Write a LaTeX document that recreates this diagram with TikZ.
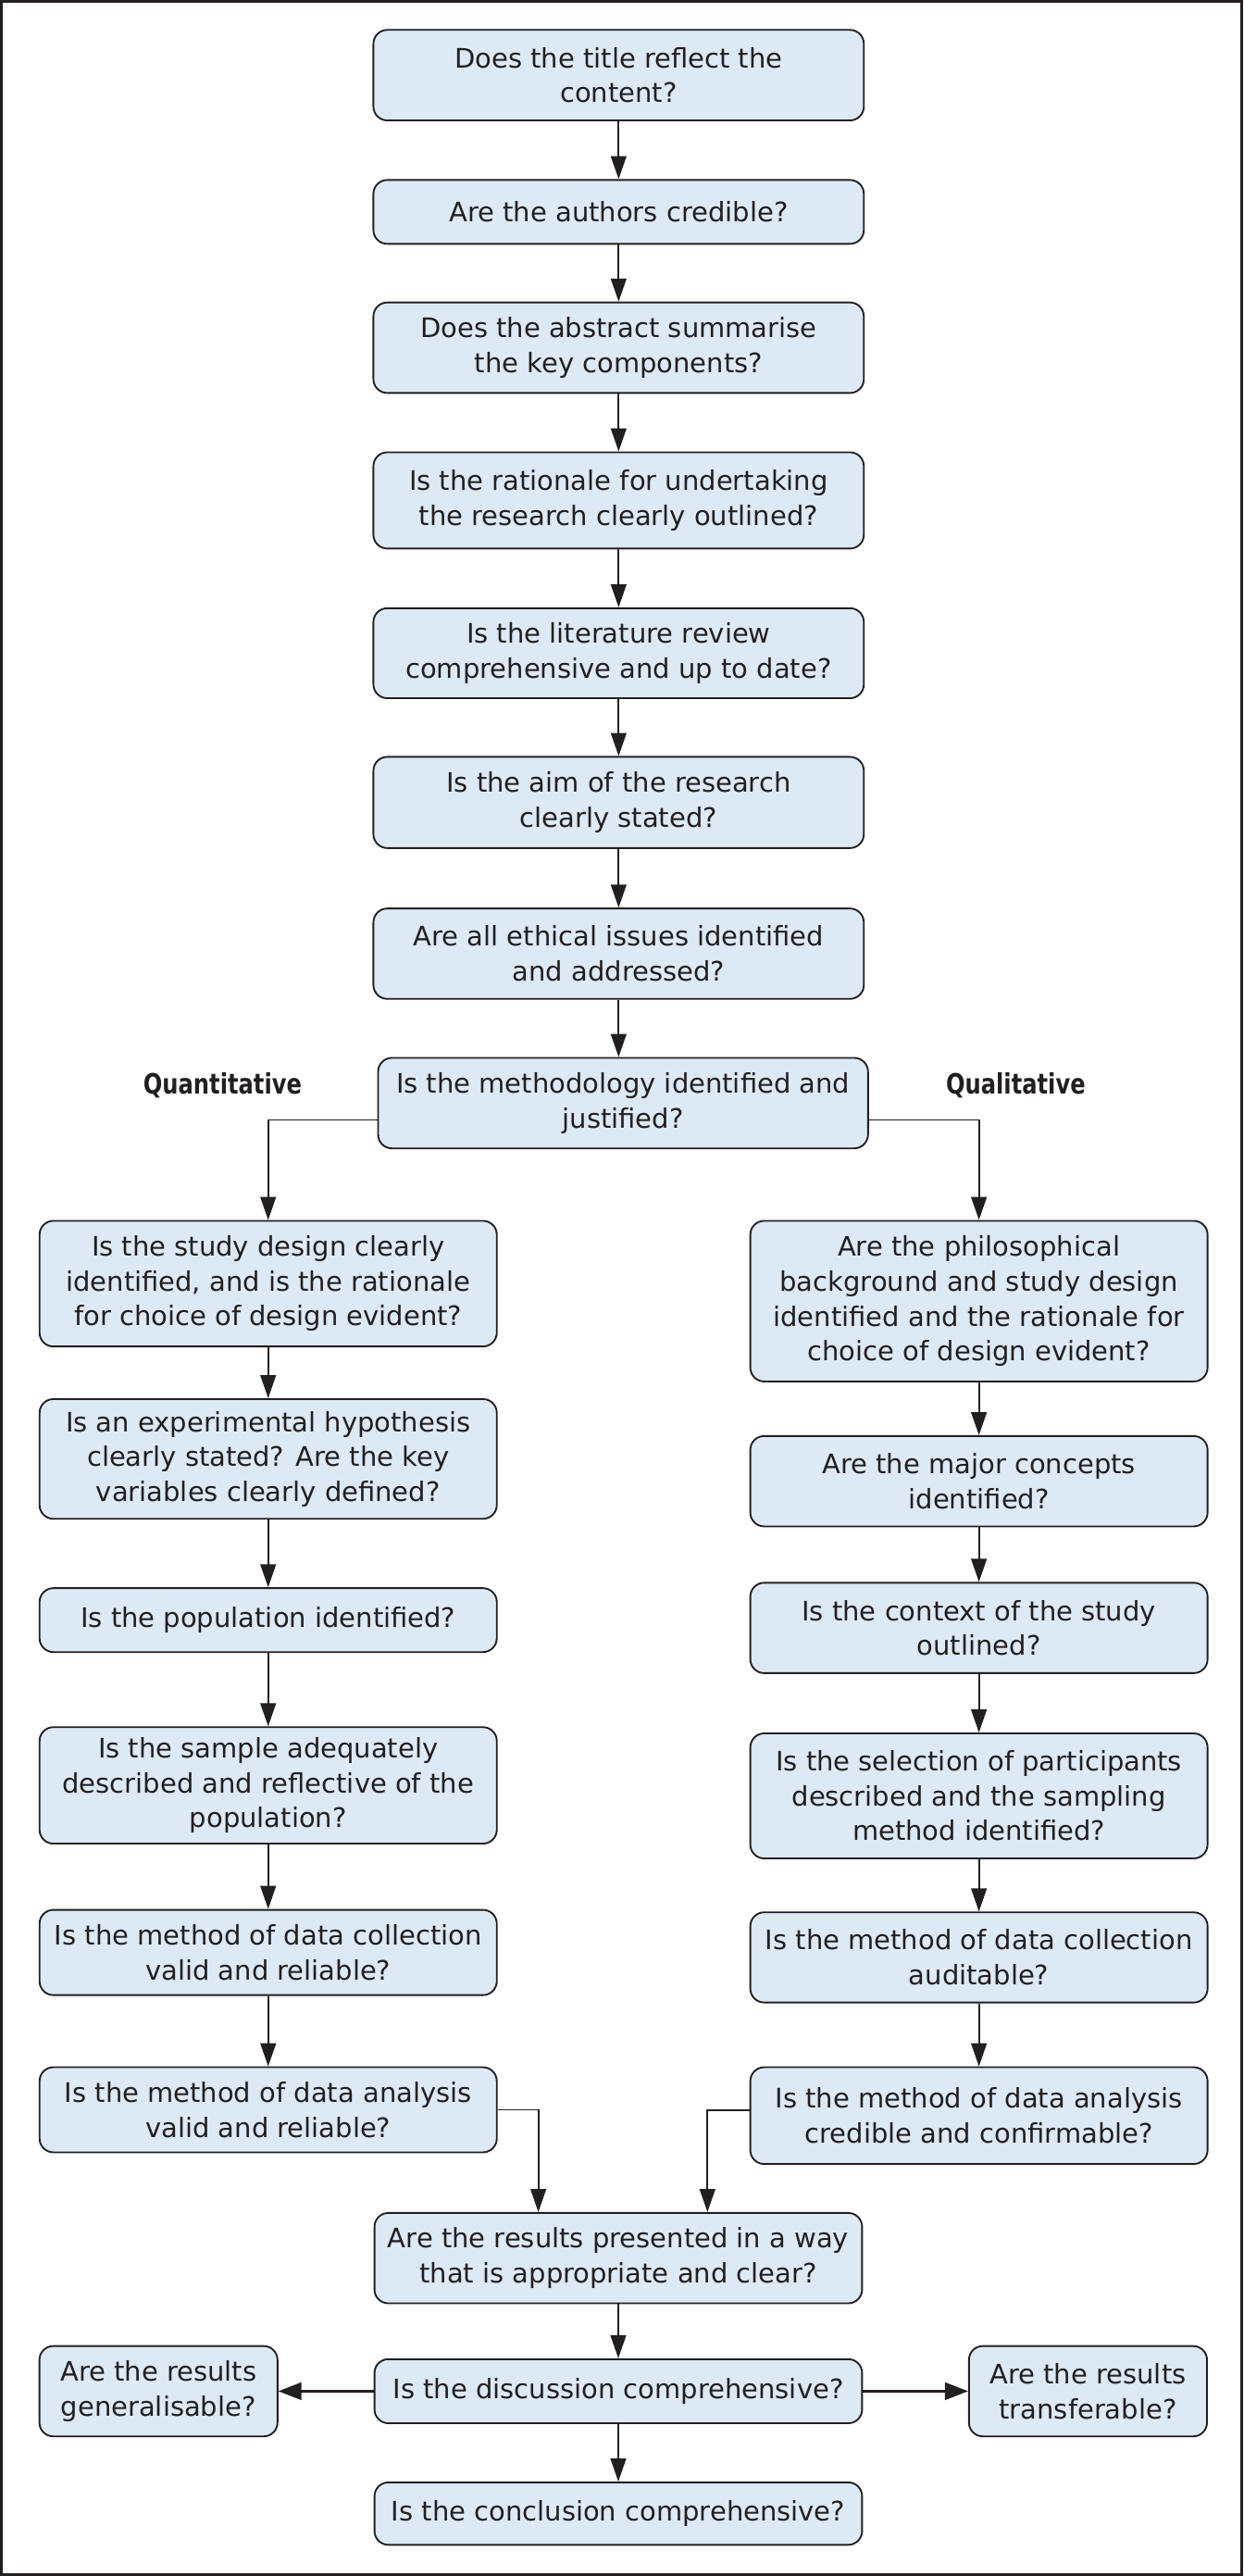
\documentclass[tikz,border=0pt]{standalone}
\usepackage{fontspec}
\setmainfont{DejaVu Sans}
\newfontfamily\qfont{DejaVu Sans}
\newfontfamily\lblfont{DejaVu Sans}[FakeStretch=0.8]
\usetikzlibrary{arrows.meta,positioning,calc}
\definecolor{boxfill}{RGB}{221,233,245}
\definecolor{boxline}{RGB}{35,31,32}
\tikzset{
  qbox/.style={draw=boxline, fill=boxfill, rounded corners=4.8pt, line width=0.6pt,
    align=center, inner sep=0pt, text=boxline,
    font=\qfont\fontsize{9.3}{12.07}\selectfont},
  mainw/.style={minimum width=5.974cm},
  sidew/.style={minimum width=5.57cm},
  arr/.style={draw=boxline, line width=0.6pt, -{Triangle[length=8pt,width=5.4pt]}},
  harr/.style={draw=boxline, line width=0.8pt, -{Triangle[length=8pt,width=6pt]}},
  lbl/.style={font=\lblfont\bfseries\fontsize{9.7}{11}\selectfont, text=boxline, inner sep=0pt}
}
\begin{document}
\begin{tikzpicture}[x=0.02cm, y=-0.02cm]
\useasboundingbox (0,0) rectangle (757,1568);
\draw[boxline, line width=0.9pt] (0.7,0.7) rectangle (756.3,1567.3);

% main column
\node[qbox, mainw, minimum height=1.102cm] (t1) at (376.7,45.75) {Does the title reflect the\\content?};
\node[qbox, mainw, minimum height=0.778cm] (t2) at (376.7,129) {Are the authors credible?};
\node[qbox, mainw, minimum height=1.102cm] (t3) at (376.7,211.65) {Does the abstract summarise\\the key components?};
\node[qbox, mainw, minimum height=1.172cm] (t4) at (376.7,304.6) {Is the rationale for undertaking\\the research clearly outlined?};
\node[qbox, mainw, minimum height=1.096cm] (t5) at (376.7,397.6) {Is the literature review\\comprehensive and up to date?};
\node[qbox, mainw, minimum height=1.11cm] (t6) at (376.7,488.45) {Is the aim of the research\\clearly stated?};
\node[qbox, mainw, minimum height=1.1cm] (t7) at (376.7,580.5) {Are all ethical issues identified\\and addressed?};
\node[qbox, minimum width=5.968cm, minimum height=1.102cm] (meth) at (379.4,671.45) {Is the methodology identified and\\justified?};

\node[lbl] (quant) at (135.5,660.6) {Quantitative};
\node[lbl] (qual) at (618.5,660.6) {Qualitative};

% left column
\node[qbox, sidew, minimum height=1.53cm] (l1) at (163.3,781.35) {Is the study design clearly\\identified, and is the rationale\\for choice of design evident?};
\node[qbox, sidew, minimum height=1.458cm] (l2) at (163.3,888.05) {Is an experimental hypothesis\\clearly stated? Are the key\\variables clearly defined?};
\node[qbox, sidew, minimum height=0.778cm] (l3) at (163.3,986.15) {Is the population identified?};
\node[qbox, sidew, minimum height=1.418cm] (l4) at (163.3,1086.75) {Is the sample adequately\\described and reflective of the\\population?};
\node[qbox, sidew, minimum height=1.038cm] (l5) at (163.3,1188.45) {Is the method of data collection\\valid and reliable?};
\node[qbox, sidew, minimum height=1.036cm] (l6) at (163.3,1284.2) {Is the method of data analysis\\valid and reliable?};

% right column
\node[qbox, sidew, minimum height=1.956cm] (r1) at (596.1,792) {Are the philosophical\\background and study design\\identified and the rationale for\\choice of design evident?};
\node[qbox, sidew, minimum height=1.1cm] (r2) at (596.1,901.6) {Are the major concepts\\identified?};
\node[qbox, sidew, minimum height=1.1cm] (r3) at (596.1,990.9) {Is the context of the study\\outlined?};
\node[qbox, sidew, minimum height=1.522cm] (r4) at (596.1,1093.15) {Is the selection of participants\\described and the sampling\\method identified?};
\node[qbox, sidew, minimum height=1.098cm] (r5) at (596.1,1191.45) {Is the method of data collection\\auditable?};
\node[qbox, sidew, minimum height=1.178cm] (r6) at (596.1,1287.75) {Is the method of data analysis\\credible and confirmable?};

% bottom
\node[qbox, minimum width=5.94cm, minimum height=1.1cm] (res) at (376.5,1374.5) {Are the results presented in a way\\that is appropriate and clear?};
\node[qbox, minimum width=5.94cm, minimum height=0.78cm] (disc) at (376.5,1455.5) {Is the discussion comprehensive?};
\node[qbox, minimum width=5.94cm, minimum height=0.76cm] (concl) at (376.5,1530) {Is the conclusion comprehensive?};
\node[qbox, minimum width=2.9cm, minimum height=1.1cm] (gen) at (96.5,1455.5) {Are the results\\generalisable?};
\node[qbox, minimum width=2.9cm, minimum height=1.1cm] (tra) at (662.5,1455.5) {Are the results\\transferable?};

% connectors
\foreach \a/\b in {t1/t2,t2/t3,t3/t4,t4/t5,t5/t6,t6/t7}
  \draw[arr] (\a.south) -- (\b.north);
\draw[arr] (t7.south) -- (t7.south |- meth.north);
\draw[arr] ([yshift=-0.205cm]meth.west) -| (l1.north);
\draw[arr] ([yshift=-0.205cm]meth.east) -| (r1.north);
\foreach \a/\b in {l1/l2,l2/l3,l3/l4,l4/l5,l5/l6,r1/r2,r2/r3,r3/r4,r4/r5,r5/r6}
  \draw[arr] (\a.south) -- (\b.north);
\draw[arr] (l6.east) -| ([xshift=-0.974cm]res.north);
\draw[arr] ([yshift=0.07cm]r6.west) -| ([xshift=1.086cm]res.north);
\draw[arr] (res.south) -- (disc.north);
\draw[arr] (disc.south) -- (concl.north);
\draw[harr] (disc.west) -- (gen.east);
\draw[harr] (disc.east) -- (tra.west);
\end{tikzpicture}
\end{document}
